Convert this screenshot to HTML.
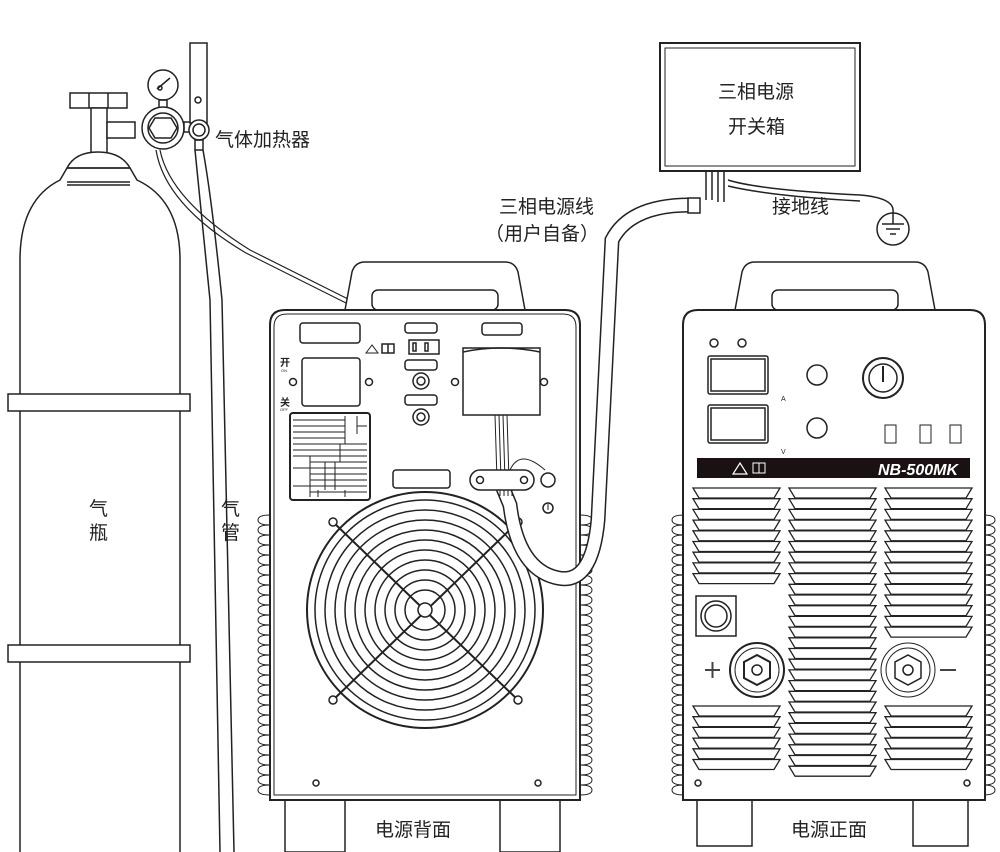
<!DOCTYPE html>
<html><head><meta charset="utf-8">
<style>
html,body{margin:0;padding:0;background:#fff;}
svg{display:block;}
text{font-family:"Liberation Sans","Noto Sans CJK SC",sans-serif;}
</style></head>
<body>
<svg id="s" width="1000" height="852" viewBox="0 0 1000 852" xmlns="http://www.w3.org/2000/svg" fill="none" stroke="#222" stroke-width="1.5">
<!-- Gas cylinder -->
<rect x="70" y="93" width="57" height="15" fill="#fff"/>
<line x1="89" y1="93" x2="89" y2="108"/><line x1="108" y1="93" x2="108" y2="108"/>
<rect x="91" y="108" width="16" height="45" fill="#fff"/>
<rect x="107" y="122" width="28" height="16" fill="#fff"/>
<path d="M67 168 Q75 152 98 152 Q121 152 130 168 Z" fill="#fff"/>
<path d="M20 260 Q20 200 60 180 L67 168 L130 168 L137 180 Q180 200 180 260 L180 852 M20 260 L20 852"/>
<line x1="67" y1="182" x2="130" y2="182"/><line x1="67" y1="185" x2="130" y2="185"/>
<rect x="8" y="394" width="182" height="17" fill="#fff"/>
<rect x="8" y="645" width="182" height="17" fill="#fff"/>
<!-- regulator -->
<circle cx="163" cy="85" r="15" fill="#fff"/>
<line x1="157" y1="89" x2="170" y2="78"/><circle cx="160" cy="88" r="2"/>
<rect x="159" y="100" width="8" height="10"/>
<circle cx="163" cy="128" r="21" fill="#fff"/>
<circle cx="163" cy="128" r="15"/>
<polygon points="155,118 171,118 177,128 171,138 155,138 149,128"/>
<rect x="184" y="122" width="8" height="10"/>
<rect x="190" y="43" width="17" height="80" fill="#fff"/>
<circle cx="198" cy="100" r="3"/>
<circle cx="199" cy="130" r="10" fill="#fff"/><circle cx="199" cy="130" r="6"/>
<rect x="195" y="140" width="8" height="10"/>
<!-- hoses -->
<path d="M195 150 Q200 200 210 300 L220 852"/>
<path d="M203 150 Q212 200 222 300 L234 852"/>
<path d="M160 150 Q170 200 250 250 L440 345" stroke-width="1.2"/>
<path d="M156 150 Q165 205 246 253 L436 348" stroke-width="1.2"/>
<!-- switch box -->
<rect x="660" y="43" width="200" height="128" fill="#fff" stroke-width="2"/>
<rect x="665" y="48" width="190" height="118" stroke-width="1"/>
<path d="M706 171 L706 200 M712 171 L712 200 M718 171 L718 202 M724 171 L724 202"/>
<path d="M728 180 Q760 190 860 195 Q895 198 893 212"/>
<path d="M728 186 Q770 196 860 201"/>
<!-- ground symbol -->
<circle cx="893" cy="229" r="16" fill="#fff"/>
<line x1="893" y1="212" x2="893" y2="224"/><line x1="882" y1="224" x2="904" y2="224"/><line x1="886" y1="229" x2="900" y2="229"/><line x1="890" y1="234" x2="896" y2="234"/>

<!-- BACK UNIT -->
<path d="M345 310 L352 272 Q355 262 365 262 L505 262 Q515 262 518 272 L525 310" fill="#fff"/>
<rect x="372" y="290" width="126" height="20" rx="6" fill="#fff"/>
<rect x="285" y="798" width="60" height="54" fill="#fff"/>
<rect x="500" y="798" width="60" height="54" fill="#fff"/>
<g id="finsL"></g>
<path d="M270 800 L270 325 Q270 310 285 310 L565 310 Q580 310 580 325 L580 800 Z" fill="#fff" stroke-width="2"/>
<path d="M274 795 L274 327 Q274 314 287 314 L563 314 Q576 314 576 327 L576 795 Z" stroke-width="1"/>
<rect x="300" y="323" width="60" height="20" rx="3"/>
<rect x="405" y="323" width="32" height="10" rx="3"/>
<rect x="482" y="323" width="40" height="12" rx="3"/>
<rect x="409" y="340" width="30" height="14"/><rect x="413" y="343" width="3" height="8"/><rect x="425" y="343" width="3" height="8"/>
<path d="M372 345 L366 353 L378 353 Z" stroke-width="1"/><rect x="382" y="344" width="12" height="9"/><line x1="388" y1="344" x2="388" y2="353"/>
<rect x="405" y="360" width="32" height="10" rx="3"/>
<circle cx="421" cy="381" r="8"/><circle cx="421" cy="381" r="4"/>
<rect x="405" y="395" width="32" height="10" rx="3"/>
<circle cx="421" cy="417" r="8"/><circle cx="421" cy="417" r="4"/>
<rect x="302" y="358" width="58" height="48" rx="3"/>
<circle cx="293" cy="382" r="3.5"/><circle cx="369" cy="382" r="3.5"/>
<text x="280" y="366" font-size="10" stroke="none" font-weight="bold" style="fill:#222">开</text>
<text x="281" y="372" font-size="4" stroke="none" style="fill:#222">ON</text>
<text x="280" y="406" font-size="10" stroke="none" font-weight="bold" style="fill:#222">关</text>
<text x="280" y="411" font-size="4" stroke="none" style="fill:#222">OFF</text>
<rect x="290" y="413" width="80" height="87" rx="3" stroke-width="2"/>
<g stroke-width="1">
<path d="M293 420 H345 M293 426 H345 M293 432 H345 M293 438 H345 M293 444 H367 M293 450 H367 M293 456 H367 M310 462 H367 M310 468 H367 M310 474 H367 M310 480 H367 M310 486 H367 M310 492 H367 M345 416 V444 M357 416 V434 M357 426 H367 M340 444 V462 M310 456 V497 M325 462 V490 M335 462 V490 M293 468 H310 M293 486 H310 M318 490 V497 M345 490 V497"/>
</g>
<rect x="393" y="470" width="57" height="18" rx="3"/>
<rect x="463" y="348" width="77" height="67" fill="#fff"/>
<path d="M463 352 Q500 344 540 352"/>
<circle cx="455" cy="382" r="3.5"/><circle cx="544" cy="382" r="3.5"/>
<path d="M495 415 L497 480 M499 415 L501 480 M503 415 L505 480 M507 415 L509 480" stroke-width="1"/>
<path d="M510 470 Q520 448 545 470" stroke-width="1"/>
<circle cx="548" cy="480" r="7" fill="#fff"/>
<circle cx="548" cy="508" r="5"/><line x1="548" y1="504" x2="548" y2="510" stroke-width="1"/>
<!-- fan -->
<g id="fan"></g>
<circle cx="316" cy="783" r="3"/><circle cx="538" cy="783" r="3"/>
<!-- 3-phase cable thick (over back unit) -->
<path d="M690 205 Q630 205 612 240 L598 520 Q592 585 558 578 Q518 570 510 505 L503 488" stroke-width="15" stroke="#222" stroke-linecap="butt"/>
<path d="M690 205 Q630 205 612 240 L598 520 Q592 585 558 578 Q518 570 510 505 L503 488" stroke-width="12" stroke="#fff" stroke-linecap="butt"/>
<rect x="688" y="198" width="12" height="15" fill="#fff"/>
<rect x="470" y="470" width="64" height="20" rx="10" fill="#fff"/>
<circle cx="480" cy="480" r="3.5"/><circle cx="524" cy="480" r="3.5"/>
<path d="M500 490 V496 M504 490 V496 M508 490 V496 M512 490 V496" stroke-width="1"/>

<!-- FRONT UNIT -->
<path d="M735 310 L742 272 Q745 262 755 262 L915 262 Q925 262 928 272 L935 310" fill="#fff"/>
<rect x="772" y="290" width="126" height="20" rx="6" fill="#fff"/>
<rect x="697" y="798" width="55" height="48" fill="#fff"/>
<rect x="913" y="798" width="55" height="48" fill="#fff"/>
<g id="finsR"></g>
<path d="M683 800 L683 325 Q683 310 698 310 L970 310 Q985 310 985 325 L985 800 Z" fill="#fff" stroke-width="2"/>
<circle cx="714" cy="343" r="4"/><circle cx="742" cy="343" r="4"/>
<rect x="708" y="356" width="60" height="38" rx="2"/><rect x="711" y="359" width="54" height="32"/>
<rect x="708" y="405" width="60" height="38" rx="2"/><rect x="711" y="408" width="54" height="32"/>
<text x="781" y="401" font-size="7" stroke="none" style="fill:#222">A</text>
<text x="781" y="454" font-size="7" stroke="none" style="fill:#222">V</text>
<circle cx="817" cy="375" r="10"/><circle cx="817" cy="428" r="10"/>
<circle cx="883" cy="378" r="20" stroke-width="2"/><circle cx="883" cy="378" r="14"/>
<line x1="883" y1="366" x2="883" y2="382" stroke-width="2"/>
<g stroke-width="1"><rect x="885" y="425" width="11" height="18"/><rect x="920" y="425" width="11" height="18"/><rect x="950" y="425" width="11" height="18"/></g>
<rect x="697" y="458" width="273" height="20" fill="#1a1212" stroke="none"/>
<path d="M740 463 L733 474 L747 474 Z" stroke="#fff" stroke-width="1.2"/>
<rect x="753" y="463" width="12" height="10" stroke="#fff" stroke-width="1"/><line x1="759" y1="463" x2="759" y2="473" stroke="#fff" stroke-width="1"/>
<text x="958" y="475" font-size="16" stroke="none" font-weight="bold" font-style="italic" text-anchor="end" style="fill:#fff">NB-500MK</text>
<g id="vents" stroke-width="1.3"></g>
<rect x="696" y="596" width="40" height="40"/><circle cx="716" cy="616" r="15"/><circle cx="716" cy="616" r="11"/>
<path d="M705 670 H720 M712.5 662 V678" stroke-width="2" stroke="#444"/>
<circle cx="757" cy="670" r="27" stroke-width="2"/><circle cx="757" cy="670" r="22" stroke-width="1"/>
<polygon points="757,655 770,662 770,678 757,685 744,678 744,662" stroke-width="2"/><circle cx="757" cy="670" r="5"/>
<circle cx="908" cy="670" r="27" stroke-width="1"/><circle cx="908" cy="670" r="22" stroke-width="1"/>
<polygon points="908,655 921,662 921,678 908,685 895,678 895,662" stroke-width="1.5"/><circle cx="908" cy="670" r="5"/>
<line x1="940" y1="670" x2="956" y2="670" stroke-width="2" stroke="#444"/>
<circle cx="698" cy="783" r="3"/><circle cx="967" cy="783" r="3"/>

<!-- labels -->
<g stroke="none" font-size="19" style="fill:#222">
<text x="215" y="146">气体加热器</text>
<text x="718" y="98">三相电源</text>
<text x="728" y="133">开关箱</text>
<text x="499" y="213">三相电源线</text>
<text x="485" y="240">（用户自备）</text>
<text x="772" y="213">接地线</text>
<text x="89" y="515">气</text>
<text x="89" y="539">瓶</text>
<text x="221" y="515">气</text>
<text x="221" y="539">管</text>
<text x="375" y="836">电源背面</text>
<text x="791" y="836">电源正面</text>
</g>
</svg>
<script>
const NS="http://www.w3.org/2000/svg";
function el(p,t,a){const e=document.createElementNS(NS,t);for(const k in a)e.setAttribute(k,a[k]);p.appendChild(e);return e;}
const fan=document.getElementById('fan');
el(fan,'circle',{cx:425,cy:610,r:118,fill:'#fff','stroke-width':2});
for(let r=110;r>10;r-=10)el(fan,'circle',{cx:425,cy:610,r:r,'stroke-width':1.5});
el(fan,'line',{x1:333,y1:522,x2:518,y2:700,'stroke-width':2});
el(fan,'line',{x1:518,y1:522,x2:333,y2:700,'stroke-width':2});
el(fan,'circle',{cx:425,cy:610,r:7,fill:'#fff'});
[[333,522],[518,522],[333,700],[518,700]].forEach(p=>el(fan,'circle',{cx:p[0],cy:p[1],r:4,fill:'#fff'}));
function fins(id,xl,xr,y0,y1){const g=document.getElementById(id);for(let y=y0;y<y1;y+=10){el(g,'path',{d:`M${xl+12} ${y} Q${xl} ${y} ${xl} ${y+5} Q${xl} ${y+10} ${xl+12} ${y+10}`,'stroke-width':1});el(g,'path',{d:`M${xr-12} ${y} Q${xr} ${y} ${xr} ${y+5} Q${xr} ${y+10} ${xr-12} ${y+10}`,'stroke-width':1});}}
fins('finsL',258,592,515,790);
fins('finsR',672,995,515,790);
const v=document.getElementById('vents');
function louvers(x1,x2,y0,n){for(let i=0;i<n;i++){const y=y0+i*10.7;el(v,'path',{d:`M${x1} ${y} L${x2} ${y} L${x2-6} ${y+10} L${x1+6} ${y+10} Z`});}}
louvers(693,780,488,9);louvers(693,780,706,6);
louvers(789,876,488,27);
louvers(885,972,488,14);louvers(885,972,706,6);
</script>
</body></html>
